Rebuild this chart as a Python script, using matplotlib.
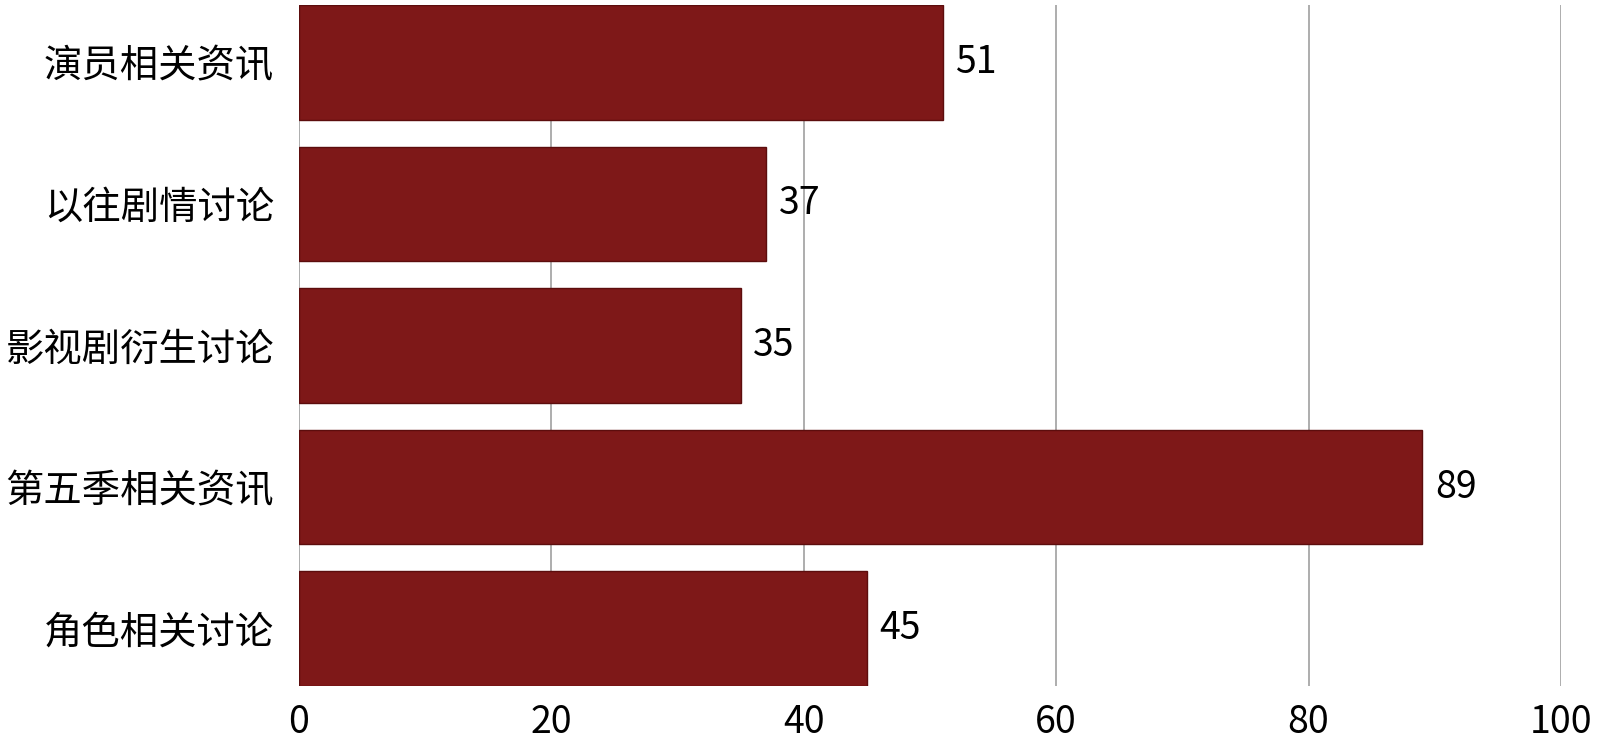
import matplotlib
matplotlib.use("Agg")
import matplotlib.pyplot as plt

plt.rcParams['font.family'] = ['Noto Sans CJK SC', 'DejaVu Sans']

categories = ['演员相关资讯', '以往剧情讨论', '影视剧衍生讨论', '第五季相关资讯', '角色相关讨论']
values = [51, 37, 35, 89, 45]
xticks = [0, 20, 40, 60, 80, 100]

fig = plt.figure(figsize=(16, 7.46), dpi=100)
ax = fig.add_axes([299/1600, 1 - 686/746, (1561-299)/1600, (686-5)/746])

pos = list(range(len(categories)))[::-1]
ax.barh(pos, values, height=0.81, color='#7e1818', edgecolor='#5c0d0d', linewidth=1, zorder=3)
for p, v in zip(pos, values):
    ax.text(v + 1, p, str(v), va='center', ha='left', fontsize=27, zorder=4)

ax.set_xlim(0, 100)
ax.set_ylim(-0.405, 4.405)
ax.set_xticks(xticks)
ax.set_xticklabels([str(t) for t in xticks], fontsize=27)
ax.set_yticks(pos)
ax.set_yticklabels(categories, fontsize=27.6)
ax.tick_params(axis='y', length=0, pad=18)
ax.tick_params(axis='x', length=0, pad=12)
ax.grid(axis='x', color='#a0a0a0', linewidth=1.2, zorder=0)
for s in ax.spines.values():
    s.set_visible(False)

fig.savefig('out.png', dpi=100)
